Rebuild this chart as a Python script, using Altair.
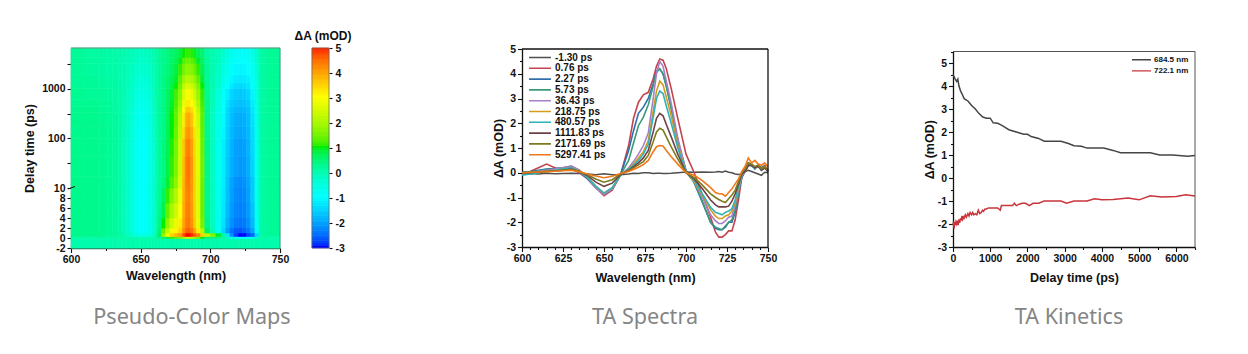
import altair as alt
import pandas as pd

FONT = "Liberation Sans"
CAPTION_FONT = "Noto Sans"

# ---------- heat map ----------
WL_EDGES = [600,610,620,626,630,634,637,640,643,646,649,652,655,658,660,662,665,668,671,674,677,680,682,684,686,688,690,693,696,700,704,708,711,714,717,720,723,726,729,732,735,740,750]
T_EDGES = [-2,-0.1,0.3,1,2,4,7,10,20,50,100,200,350,500,700,1000,1500,2200,3200,4500,6500]
HEAT_LEFT = [
 [.02]*15,
 [.1,.1,.1,.1,.1,.1,.05,0,0,0,0,0,0,.05,.1],
 [.3,.3,.25,.2,.2,.1,0,-.15,-.35,-.5,-.6,-.58,-.45,-.3,-.1],
 [.3,.3,.25,.2,.15,.05,-.1,-.3,-.55,-.8,-.95,-.88,-.65,-.38,-.15],
 [.3,.3,.25,.2,.15,.05,-.1,-.3,-.55,-.8,-.95,-.88,-.65,-.38,-.15],
 [.3,.3,.25,.2,.15,.05,-.1,-.3,-.55,-.8,-.95,-.88,-.65,-.38,-.15],
 [.3,.3,.25,.2,.15,.05,-.1,-.3,-.55,-.8,-.95,-.88,-.65,-.38,-.15],
 [.3,.3,.25,.2,.15,.05,-.1,-.3,-.55,-.8,-.95,-.88,-.65,-.38,-.15],
 [.3,.3,.25,.2,.15,.05,-.1,-.3,-.55,-.8,-.95,-.88,-.65,-.38,-.15],
 [.3,.3,.25,.2,.15,.05,-.1,-.3,-.55,-.8,-.95,-.88,-.65,-.38,-.15],
 [.3,.3,.25,.2,.15,.05,-.1,-.28,-.5,-.75,-.88,-.8,-.6,-.35,-.12],
 [.3,.3,.25,.2,.15,.05,-.08,-.25,-.45,-.68,-.8,-.72,-.55,-.3,-.1],
 [.28,.28,.22,.18,.12,.05,-.07,-.22,-.42,-.62,-.75,-.68,-.5,-.28,-.08],
 [.25,.25,.2,.18,.12,.05,-.06,-.2,-.38,-.58,-.7,-.63,-.46,-.25,-.07],
 [.25,.22,.18,.15,.1,.05,-.05,-.18,-.33,-.5,-.6,-.55,-.4,-.22,-.05],
 [.22,.2,.15,.12,.08,.03,-.04,-.15,-.28,-.42,-.5,-.45,-.33,-.18,-.03],
 [.2,.18,.12,.1,.07,.02,-.04,-.13,-.25,-.38,-.45,-.4,-.3,-.16,-.02],
 [.2,.15,.1,.08,.05,.02,-.02,-.1,-.2,-.3,-.35,-.32,-.22,-.1,0],
 [.2,.15,.1,.08,.05,.02,-.01,-.07,-.14,-.21,-.25,-.22,-.15,-.06,.02],
 [.2,.12,.1,.08,.05,.03,0,-.05,-.1,-.17,-.2,-.17,-.1,-.03,.05],
]
HEAT_RIGHT = [
 [.02]*27,
 [.3,.5,.8,1.1,1.3,1.5,1.9,2.3,2.4,2.2,1.9,1.5,1,.5,.4,.3,.1,-.2,-.6,-.9,-1,-1,-.9,-.7,-.2,.1,.05],
 [.7,1.8,2.8,3.5,3.8,4.1,4.7,5,5,4.9,4.6,4.3,3.5,2.2,1.6,.9,.2,-1.3,-2.2,-2.8,-3,-3,-2.8,-2.6,-1.5,.1,.2],
 [.5,1.4,2.2,2.85,3.1,3.45,4.15,4.55,4.6,4.4,3.95,3.2,2.1,.6,-.1,-.8,-1.5,-2.1,-2.45,-2.65,-2.7,-2.6,-2.4,-2,-.9,.1,.2],
 [.4,1,1.7,2.35,2.7,3.2,3.95,4.35,4.4,4.1,3.55,2.7,1.5,.35,-.2,-.75,-1.35,-1.9,-2.2,-2.4,-2.45,-2.4,-2.2,-1.8,-.8,.1,.2],
 [.3,.75,1.35,1.95,2.35,3,3.85,4.3,4.35,4.05,3.5,2.65,1.4,.3,-.2,-.7,-1.3,-1.8,-2.1,-2.3,-2.35,-2.3,-2.1,-1.7,-.75,.1,.2],
 [.25,.6,1.1,1.6,2.05,2.8,3.8,4.25,4.3,4,3.45,2.6,1.4,.3,-.2,-.7,-1.25,-1.75,-2.05,-2.25,-2.3,-2.25,-2.05,-1.6,-.7,.1,.2],
 [.2,.45,.85,1.25,1.7,2.55,3.75,4.3,4.35,4.05,3.45,2.6,1.4,.3,-.2,-.7,-1.2,-1.7,-2,-2.2,-2.25,-2.2,-2,-1.6,-.7,.1,.2],
 [.2,.4,.75,1.1,1.55,2.4,3.7,4.35,4.4,4.1,3.45,2.65,1.45,.35,-.2,-.7,-1.2,-1.65,-1.9,-2.05,-2.15,-2.1,-1.9,-1.5,-.7,.1,.2],
 [.2,.4,.7,1.05,1.5,2.35,3.6,4.25,4.3,4,3.4,2.6,1.4,.35,-.2,-.7,-1.2,-1.6,-1.85,-2.05,-2.1,-2.05,-1.85,-1.45,-.65,.1,.2],
 [.2,.35,.7,1,1.4,2.2,3.4,4.05,4.1,3.85,3.3,2.5,1.35,.3,-.2,-.65,-1.1,-1.55,-1.8,-1.95,-2,-1.95,-1.8,-1.4,-.65,.1,.2],
 [.2,.35,.65,1,1.35,2.1,3.2,3.85,3.9,3.65,3.1,2.35,1.3,.3,-.2,-.6,-1.05,-1.5,-1.75,-1.9,-1.95,-1.9,-1.75,-1.35,-.6,.1,.2],
 [.2,.35,.65,.95,1.3,1.95,3,3.55,3.6,3.35,2.9,2.2,1.25,.3,-.15,-.55,-1,-1.45,-1.7,-1.8,-1.85,-1.8,-1.7,-1.3,-.6,.1,.2],
 [.2,.35,.6,.9,1.2,1.8,2.75,3.2,3.2,3,2.6,2,1.15,.3,-.1,-.5,-.95,-1.35,-1.6,-1.7,-1.75,-1.7,-1.6,-1.2,-.55,.1,.2],
 [.2,.35,.6,.85,1.15,1.65,2.5,2.9,2.9,2.7,2.35,1.8,1.1,.25,-.1,-.45,-.85,-1.2,-1.5,-1.6,-1.65,-1.6,-1.5,-1.1,-.5,.1,.2],
 [.2,.35,.55,.75,1,1.45,2.15,2.5,2.5,2.35,2.05,1.6,1,.25,-.05,-.35,-.7,-1,-1.25,-1.4,-1.45,-1.4,-1.3,-1,-.5,.1,.2],
 [.2,.35,.5,.7,.9,1.3,1.85,2.1,2.1,2,1.75,1.35,.85,.2,-.05,-.3,-.6,-.85,-1.1,-1.2,-1.25,-1.25,-1.15,-.9,-.45,.1,.2],
 [.2,.3,.45,.6,.8,1.1,1.5,1.7,1.7,1.6,1.4,1.1,.7,.2,0,-.2,-.5,-.7,-.95,-1.05,-1.1,-1.1,-1,-.8,-.4,.1,.2],
 [.2,.3,.4,.55,.7,.95,1.25,1.4,1.4,1.3,1.15,.9,.6,.15,0,-.15,-.4,-.6,-.8,-.95,-1,-1,-.9,-.7,-.35,.1,.2],
 [.2,.3,.4,.5,.6,.8,1,1.1,1.1,1.05,.9,.7,.5,.1,0,-.1,-.3,-.5,-.7,-.8,-.9,-.9,-.8,-.6,-.3,.1,.2],
]
CBAR_TICKS = [-3,-2,-1,0,1,2,3,4,5]
CBAR_LEVELS = [x / 10 for x in range(-30, 50)]
CMAP_DOMAIN = [-3,-1,1,3,5]
CMAP_RANGE = ["#0000ff","#00ffff","#00ee00","#ffff00","#ff0000"]

# ---------- spectra ----------
WL = [600,605,610,615,620,625,630,635,640,645,650,655,660,665,668,671,674,677,680,682,684,686,688,691,695,700,705,710,715,718,720,722,724,726,728,730,732,734,736,738,740,742,744,746,748,750]
SPEC_NAMES = ["-1.30 ps","0.76 ps","2.27 ps","5.73 ps","36.43 ps","218.75 ps","480.57 ps","1111.83 ps","2171.69 ps","5297.41 ps"]
SPEC_COLORS = ["#4f4f4f","#c4444e","#2f6fae","#3b9a78","#a77fc9","#d69a1f","#2fb2ba","#6d4044","#7d7a1f","#f0781a"]
SPECTRA = [
 [-.05,-.03,-.05,-.02,-.04,-.03,-.02,-.03,-.05,-.08,-.04,-.08,-.08,-.05,-.02,-.03,0,0,-.03,-.02,-.02,-.03,-.03,-.02,0,.03,.02,.03,.02,.03,.05,.02,.07,.02,0,-.05,-.07,-.05,.05,.1,.05,0,-.05,-.1,.02,0],
 [0,.05,.2,.35,.2,.1,.15,0,-.25,-.6,-.93,-.7,-.1,1.1,2.2,2.85,3.15,3.25,3.8,4.3,4.6,4.55,4.2,3.4,2.2,.75,0,-.9,-1.8,-2.4,-2.6,-2.6,-2.5,-2.35,-2.35,-1.9,-1.1,-.2,.1,.3,.35,.2,.3,.2,.3,.1],
 [.02,.05,.1,.15,.17,.2,.25,.05,-.25,-.6,-.85,-.65,-.1,.9,1.7,2.4,2.65,3,3.6,4.1,4.2,4,3.5,2.6,1.3,.1,-.4,-1.2,-2,-2.25,-2.3,-2.3,-2.2,-2,-2,-1.6,-.8,-.2,.05,.35,.3,.2,.3,.2,.25,.05],
 [0,.03,.08,.13,.15,.2,.25,.1,-.2,-.55,-.85,-.65,-.1,.5,1.2,1.9,2.25,2.75,3.5,4.05,4.2,4,3.5,2.6,1.3,.05,-.4,-1.15,-2,-2.2,-2.25,-2.3,-2.15,-2,-1.9,-1.5,-.8,-.15,.05,.3,.3,.2,.3,.15,.2,.05],
 [-.05,0,.05,.1,.15,.2,.28,.1,-.2,-.6,-.88,-.65,-.1,.2,.45,.75,1.1,1.6,3,4,4.5,4.3,3.7,2.8,1.4,.05,-.35,-1,-1.7,-1.95,-2.05,-2.05,-1.95,-1.8,-1.75,-1.3,-.7,-.1,.05,.35,.3,.15,.3,.1,.2,.1],
 [-.03,0,.03,.07,.1,.15,.2,.08,-.2,-.55,-.82,-.6,-.1,.15,.35,.6,.85,1.3,2.5,3.3,3.7,3.55,3.05,2.3,1.1,.03,-.35,-.9,-1.5,-1.75,-1.85,-1.85,-1.75,-1.7,-1.55,-1.2,-.6,-.05,.1,.4,.35,.2,.3,.15,.25,.1],
 [-.1,-.05,0,.05,.1,.15,.2,.05,-.2,-.55,-.82,-.6,-.1,.15,.3,.5,.75,1.15,2.25,3,3.3,3.2,2.7,2,1,.02,-.3,-.85,-1.4,-1.6,-1.65,-1.7,-1.6,-1.55,-1.45,-1.1,-.55,-.05,.1,.35,.3,.15,.3,.1,.2,.05],
 [-.02,0,.03,.05,.07,.1,.15,.05,-.12,-.38,-.55,-.42,-.08,.1,.25,.4,.6,.9,1.65,2.2,2.4,2.3,1.95,1.45,.75,0,-.25,-.65,-1.1,-1.3,-1.38,-1.38,-1.38,-1.35,-1.15,-.85,-.45,-.05,.05,.3,.3,.2,.25,.1,.2,.05],
 [0,.02,.03,.05,.07,.1,.13,.05,-.08,-.25,-.38,-.28,-.05,.08,.2,.32,.45,.7,1.25,1.65,1.8,1.72,1.45,1.05,.55,0,-.2,-.5,-.85,-1,-1.08,-1.15,-1.2,-1.05,-.9,-.7,-.35,0,.15,.4,.35,.25,.3,.15,.25,.1],
 [0,.02,.03,.04,.06,.08,.1,.04,-.05,-.13,-.2,-.14,-.03,.05,.13,.22,.33,.5,.85,1.05,1.1,1.08,.9,.65,.35,0,-.1,-.32,-.6,-.8,-.85,-.85,-.95,-.8,-.65,-.45,-.25,.05,.25,.6,.4,.5,.35,.3,.4,.25],
]

# ---------- kinetics ----------
BLACK_T = [0,30,60,100,130,160,200,260,300,400,500,600,700,800,900,1000,1080,1200,1300,1400,1500,1700,1900,2000,2100,2300,2450,2900,3100,3250,3450,3600,4050,4300,4500,5300,5550,5900,6300,6500]
BLACK_V = [4.5,4.4,4.3,4.2,4.3,4.0,3.8,3.6,3.45,3.35,3.15,3.0,2.8,2.65,2.6,2.6,2.4,2.38,2.3,2.2,2.1,2.0,1.9,1.9,1.8,1.72,1.6,1.6,1.5,1.4,1.38,1.3,1.3,1.2,1.1,1.1,1.0,1.0,.95,.98]
RED_T = [0,15,30,45,60,80,100,120,140,160,180,200,220,240,260,280,300,330,360,400,430,460,500,530,560,600,640,680,720,760,790,820,860,900,950,1000,1100,1200,1270,1300,1500,1600,1650,1700,1760,1850,1950,2050,2150,2300,2450,2900,3050,3250,3600,3800,4000,4300,4700,5000,5300,5600,6000,6250,6500]
RED_V = [-2.05,-1.9,-2.2,-1.9,-2.05,-1.9,-2.0,-1.85,-2.05,-1.8,-1.95,-1.75,-1.85,-1.65,-1.8,-1.7,-1.75,-1.6,-1.7,-1.55,-1.65,-1.5,-1.6,-1.5,-1.6,-1.55,-1.6,-1.4,-1.55,-1.5,-1.4,-1.45,-1.35,-1.35,-1.3,-1.3,-1.3,-1.3,-1.4,-1.2,-1.2,-1.2,-1.1,-1.2,-1.15,-1.1,-1.1,-1.2,-1.1,-1.1,-1.0,-1.0,-1.1,-1.0,-1.0,-.9,-.95,-.93,-.87,-.95,-.77,-.83,-.8,-.73,-.78]
KIN_NAMES = ["684.5 nm","722.1 nm"]
KIN_COLORS = ["#454545","#c9353b"]

CAPTIONS = ["Pseudo-Color Maps","TA Spectra","TA Kinetics"]
AXIS_COLOR = "#111111"
ONE = alt.Data(values=[{"a": 1}])


def base_axis(**kw):
    d = dict(labelFont=FONT, labelFontWeight="bold", labelFontSize=10.5, labelColor="#111111",
             titleFont=FONT, titleFontWeight="bold", titleFontSize=12.5, titleColor="#111111",
             domainColor=AXIS_COLOR, tickColor=AXIS_COLOR, domainWidth=1.3, tickWidth=1.1,
             grid=False, labelOverlap=False, labelFlush=False)
    d.update(kw)
    return alt.Axis(**d)


def frame(width, top, bottom, color=AXIS_COLOR, sw=1.3):
    r = alt.Chart(ONE).mark_rule(color=color, strokeWidth=sw).encode(
        x=alt.value(width), y=alt.value(top), y2=alt.value(bottom))
    t = alt.Chart(ONE).mark_rule(color=color, strokeWidth=sw).encode(
        x=alt.value(0), x2=alt.value(width), y=alt.value(top))
    return r + t


def caption(text, cx):
    return alt.Chart(alt.Data(values=[{"c": text}])).mark_text(
        font=CAPTION_FONT, fontSize=21.6, color="#858585", align="center", baseline="middle"
    ).encode(text="c:N", x=alt.value(cx), y=alt.value(270))


major_minor = {"condition": {"test": "abs(datum.value - round(datum.value)) > 0.01", "value": 2.5}, "value": 4.5}
major_minor_k = {"condition": {"test": "datum.value % 1000 != 0", "value": 2.5}, "value": 4.5}
HALF_LABELS = "datum.value % 1 == 0 ? '' + datum.value : ''"

# ---------- panel 1 ----------
rows = []
for r in range(len(T_EDGES) - 1):
    for c, v in enumerate(HEAT_LEFT[r] + HEAT_RIGHT[r]):
        rows.append(dict(x0=WL_EDGES[c], x1=WL_EDGES[c + 1], y0=T_EDGES[r], y1=T_EDGES[r + 1], v=v))
heat_df = pd.DataFrame(rows)
color_scale = alt.Scale(domain=CMAP_DOMAIN, range=CMAP_RANGE, clamp=True)
TIME_DOMAIN = [-2,10,31.62,100,316.2,1000,3162,6500]
TIME_RANGE = [200,140,115.2,90.4,65.5,40.7,15.9,0]
heat = alt.Chart(heat_df).mark_rect(strokeWidth=0.6).encode(
    x=alt.X("x0:Q", scale=alt.Scale(domain=[600,750], range=[0,209], nice=False),
            axis=base_axis(title="Wavelength (nm)", values=[600,625,650,675,700,725,750],
                           labelExpr="datum.value % 50 == 0 ? datum.label : ''",
                           tickSize={"condition": {"test": "datum.value % 50 != 0", "value": 2.5}, "value": 4.5},
                           format="d", titlePadding=4, domainColor="#2f6f55")),
    x2="x1:Q",
    y=alt.Y("y0:Q", scale=alt.Scale(domain=TIME_DOMAIN, range=TIME_RANGE, nice=False, zero=False),
            axis=base_axis(title="Delay time (ps)", values=[-2,0,2,4,6,8,10,31.62,100,316.2,1000,3162],
                           labelExpr="(datum.value == 31.62 || datum.value == 316.2 || datum.value == 3162) ? '' : '' + datum.value",
                           tickSize=4, titlePadding=5, domainColor="#2f6f55")),
    y2="y1:Q",
    color=alt.Color("v:Q", scale=color_scale, legend=None),
    stroke=alt.Color("v:Q", scale=color_scale, legend=None),
)
brk = alt.Chart(ONE).mark_rule(color="#111111", strokeWidth=1).encode(
    x=alt.value(-3), x2=alt.value(4), y=alt.value(141), y2=alt.value(138.5))
panel1 = alt.layer(heat, frame(209, 0, 200, "#6b8f80", 1), brk, caption(CAPTIONS[0], 121)).properties(width=209, height=200)

# ---------- colour bar ----------
cb_df = pd.DataFrame({"lo": CBAR_LEVELS, "hi": [v + 0.1 for v in CBAR_LEVELS]})
cbar = alt.Chart(cb_df).mark_rect(strokeWidth=0.6).encode(
    x=alt.value(0), x2=alt.value(17),
    y=alt.Y("lo:Q", scale=alt.Scale(domain=[-3,5], range=[200,0], nice=False, zero=False),
            axis=base_axis(title=None, orient="right", values=CBAR_TICKS, offset=-161, domain=False,
                           tickSize=3, labelPadding=3, labelExpr="'' + datum.value")),
    y2="hi:Q",
    color=alt.Color("lo:Q", scale=color_scale, legend=None),
    stroke=alt.Color("lo:Q", scale=color_scale, legend=None),
)
cb_left = alt.Chart(ONE).mark_rule(color="#666666", strokeWidth=0.7).encode(x=alt.value(0), y=alt.value(0), y2=alt.value(200))
cb_bottom = alt.Chart(ONE).mark_rule(color="#666666", strokeWidth=0.7).encode(x=alt.value(0), x2=alt.value(17), y=alt.value(200))
cb_title = alt.Chart(alt.Data(values=[{"c": "ΔA (mOD)"}])).mark_text(
    font=FONT, fontWeight="bold", fontSize=12, color="#111111", align="center", baseline="middle"
).encode(text="c:N", x=alt.value(11), y=alt.value(-12))
panel_cb = alt.layer(cbar, frame(17, 0, 200, "#666666", 0.7), cb_left, cb_bottom, cb_title).properties(width=178, height=200)

# ---------- panel 2 ----------
spec_rows = []
for i, name in enumerate(SPEC_NAMES):
    for w, v in zip(WL, SPECTRA[i]):
        spec_rows.append(dict(w=w, v=v, s=name, o=i))
spec_df = pd.DataFrame(spec_rows)
spec = alt.Chart(spec_df).mark_line(strokeWidth=1.6).encode(
    x=alt.X("w:Q", scale=alt.Scale(domain=[600,750], range=[0,246], nice=False),
            axis=base_axis(title="Wavelength (nm)", values=list(range(600,751,5)),
                           labelExpr="datum.value % 25 == 0 ? datum.label : ''",
                           tickSize={"condition": {"test": "datum.value % 25 != 0", "value": 2.5}, "value": 4.5},
                           format="d", offset=-1, titlePadding=7)),
    y=alt.Y("v:Q", scale=alt.Scale(domain=[-3,5], range=[199,1], nice=False, zero=False),
            axis=base_axis(title="ΔA (mOD)", values=[x / 2 for x in range(-6, 11)],
                           labelExpr=HALF_LABELS, tickSize=major_minor, titlePadding=1)),
    color=alt.Color("s:N", scale=alt.Scale(domain=SPEC_NAMES, range=SPEC_COLORS),
                    legend=alt.Legend(title=None, orient="none", legendX=6, legendY=4.5, symbolType="stroke",
                                      symbolSize=480, symbolStrokeWidth=1.6, labelFont=FONT, labelFontWeight="bold",
                                      labelFontSize=10, labelColor="#111111", rowPadding=0.8, labelOffset=3,
                                      clipHeight=10)),
    order="o:Q",
)
panel2 = alt.layer(spec, frame(246, 1, 199), caption(CAPTIONS[1], 123)).properties(width=399, height=200)

# ---------- panel 3 ----------
kin_df = pd.concat([
    pd.DataFrame({"t": BLACK_T, "v": BLACK_V, "s": KIN_NAMES[0]}),
    pd.DataFrame({"t": RED_T, "v": RED_V, "s": KIN_NAMES[1]}),
])
kin = alt.Chart(kin_df).mark_line(strokeWidth=1.5).encode(
    x=alt.X("t:Q", scale=alt.Scale(domain=[0,6500], range=[0,242], nice=False),
            axis=base_axis(title="Delay time (ps)", values=list(range(0,6501,500)),
                           labelExpr="datum.value % 1000 == 0 ? datum.label : ''",
                           tickSize=major_minor_k, format="d", offset=-1, titlePadding=7)),
    y=alt.Y("v:Q", scale=alt.Scale(domain=[-3,5.5], range=[199,3.5], nice=False, zero=False),
            axis=base_axis(title="ΔA (mOD)", values=[x / 2 for x in range(-6, 12)],
                           labelExpr=HALF_LABELS, tickSize=major_minor, titlePadding=1)),
    color=alt.Color("s:N", scale=alt.Scale(domain=KIN_NAMES, range=KIN_COLORS),
                    legend=alt.Legend(title=None, orient="none", legendX=178, legendY=7, symbolType="stroke",
                                      symbolSize=360, symbolStrokeWidth=1.3, labelFont=FONT, labelFontWeight="bold",
                                      labelFontSize=8, labelColor="#111111", rowPadding=1.2, labelOffset=2,
                                      clipHeight=9.5)),
    detail="s:N",
)
panel3 = alt.layer(kin, frame(242, 3.5, 199, "#555555", 1), caption(CAPTIONS[2], 116)).properties(width=243, height=200)

chart = alt.hconcat(panel1, panel_cb, panel2, panel3, spacing=32, bounds="flush").resolve_scale(
    color="independent", x="independent", y="independent"
).configure_view(stroke=None).properties(padding={"left": 15, "top": 22, "right": 0, "bottom": 5}, background="white")

chart.save("out.html", embed_options={"renderer": "svg", "actions": False})
